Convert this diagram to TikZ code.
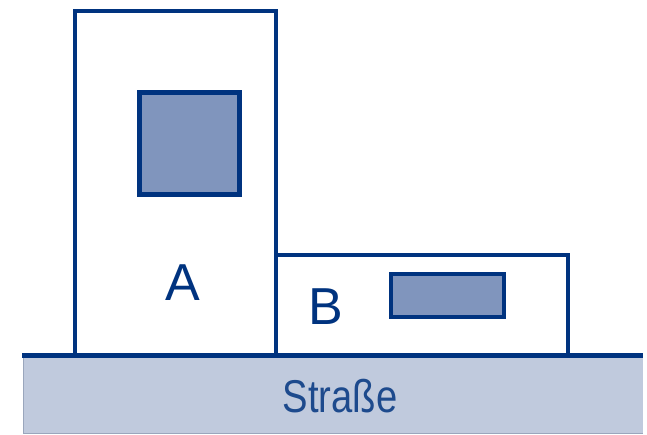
\documentclass[tikz,border=0pt]{standalone}
\usepackage{fontspec}
\setmainfont{Liberation Sans}
\definecolor{navy}{HTML}{00337F}
\definecolor{winfill}{HTML}{8095BD}
\definecolor{roadfill}{HTML}{C0CADD}
\definecolor{roadedge}{HTML}{9AA6BC}
\tikzset{
  wall/.style={draw=navy, line width=4.6pt, fill=white},
  window/.style={draw=navy, line width=4.8pt, fill=winfill},
  label/.style={text=navy, font=\fontsize{52}{60}\selectfont, inner sep=0pt},
}
\begin{document}
\begin{tikzpicture}[x=1pt, y=-1pt]
  \useasboundingbox (0,0) rectangle (647,435);
  % street
  \fill[roadfill] (23,355) rectangle (643,434);
  \draw[roadedge, line width=1pt] (23.5,357) -- (23.5,434);
  \draw[roadedge, line width=1pt] (23,433.5) -- (643,433.5);
  % building B (low)
  \draw[wall] (276,355) -- (276,255) -- (568,255) -- (568,355);
  \draw[window] (391,274) rectangle (504,317);
  % building A (tall)
  \draw[wall] (75,355) -- (75,11) -- (276,11) -- (276,355);
  \draw[window] (139.5,92.5) rectangle (239.5,194.5);
  % street edge
  \draw[navy, line width=5pt] (22,355) -- (643,355);
  % labels
  \node[label, anchor=base] (la) at (182.5,301) {A};
  \node[label, anchor=base] (lb) at (326,324.5) {B};
  \node[text=navy!85!roadfill, inner sep=0pt, anchor=base, xscale=0.83,
        font=\fontsize{46}{54}\selectfont] (road) at (340,412) {Straße};
\end{tikzpicture}
\end{document}
